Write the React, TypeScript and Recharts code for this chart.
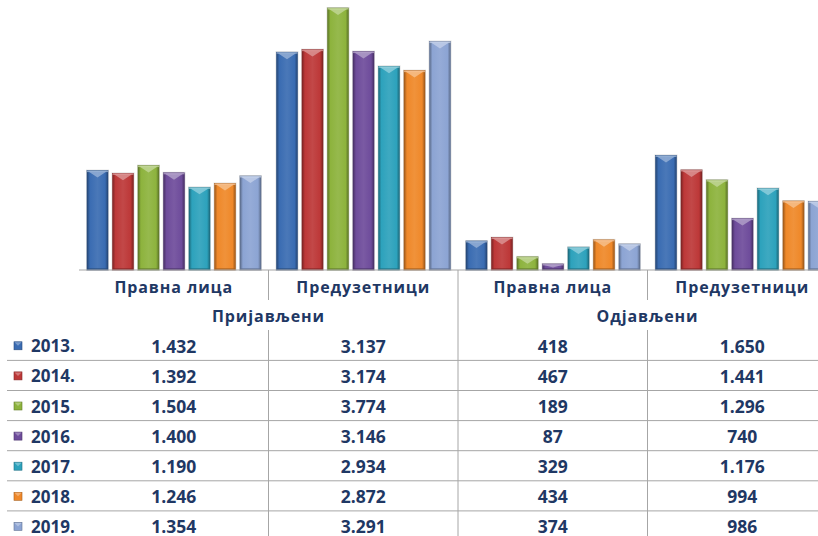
import React from 'react';
import { BarChart, Bar, XAxis, YAxis } from 'recharts';

const categories = ['Правна лица', 'Предузетници', 'Правна лица', 'Предузетници'];
const groupLabels = ['Пријављени', 'Одјављени'];
const years = ['2013.', '2014.', '2015.', '2016.', '2017.', '2018.', '2019.'];
const colors = ['#3A6CB2', '#BD3838', '#8DB33D', '#6E4C9B', '#2DA2BC', '#EF8829', '#8CA4D3'];

const v2013 = [1432, 3137, 418, 1650];
const v2014 = [1392, 3174, 467, 1441];
const v2015 = [1504, 3774, 189, 1296];
const v2016 = [1400, 3146, 87, 740];
const v2017 = [1190, 2934, 329, 1176];
const v2018 = [1246, 2872, 434, 994];
const v2019 = [1354, 3291, 374, 986];
const seriesValues = [v2013, v2014, v2015, v2016, v2017, v2018, v2019];

const keys = years.map((y) => 'y' + y.replace('.', ''));
const data = categories.map((c, i) => {
  const row: any = { name: c + '#' + i };
  keys.forEach((k, s) => {
    row[k] = seriesValues[s][i];
  });
  return row;
});

const CHART_W = 837;
const CHART_H = 536;
const M_LEFT = 79;
const M_TOP = 8;
const PLOT_H = 262;
const BAND = (CHART_W - M_LEFT) / categories.length;
const TEXT = '#1F3864';
const GRID = '#A6A6A6';
const FONT = "'Open Sans', 'Noto Sans', sans-serif";

const ROW0 = 345.8;
const ROW_STEP = 30.1;

function fmt(n: number) {
  if (n < 1000) return String(n);
  const t = Math.floor(n / 1000);
  const r = n % 1000;
  return t + '.' + String(r).padStart(3, '0');
}

function mix(hex: string, target: number, amt: number) {
  const n = parseInt(hex.slice(1), 16);
  const r = (n >> 16) & 255, g = (n >> 8) & 255, b = n & 255;
  const f = (c: number) => Math.round(c + (target - c) * amt);
  return `rgb(${f(r)},${f(g)},${f(b)})`;
}

const BevelBar = (props: any) => {
  const { x, y, width, height, fill } = props;
  if (!height || height <= 0) return null;
  const id = 'grad' + fill.slice(1);
  const ch = Math.min(width * 0.33, height * 0.6);
  return (
    <g>
      <defs>
        <linearGradient id={id} x1="0" y1="0" x2="1" y2="0">
          <stop offset="0" stopColor={mix(fill, 0, 0.35)} />
          <stop offset="0.14" stopColor={fill} />
          <stop offset="0.5" stopColor={mix(fill, 255, 0.08)} />
          <stop offset="0.86" stopColor={fill} />
          <stop offset="1" stopColor={mix(fill, 0, 0.35)} />
        </linearGradient>
      </defs>
      <rect x={x - 0.5} y={y - 0.5} width={width + 1} height={height + 1} fill="none" stroke="rgba(0,0,0,0.12)" strokeWidth={1} />
      <rect x={x} y={y} width={width} height={height} fill={`url(#${id})`} stroke={mix(fill, 0, 0.3)} strokeWidth={0.6} />
      <polygon
        points={`${x + 1.5},${y + 1} ${x + width - 1.5},${y + 1} ${x + width / 2},${y + ch}`}
        fill={mix(fill, 255, 0.45)}
        opacity={0.85}
      />
      <rect x={x} y={y} width={width} height={Math.min(1.5, height)} fill={mix(fill, 255, 0.55)} opacity={0.7} />
      {height > 4 && <rect x={x + 0.5} y={y + height - 2} width={width - 1} height={2} fill={mix(fill, 0, 0.3)} opacity={0.6} />}
    </g>
  );
};

const TableTick = (props: any) => {
  const { x, y, payload } = props;
  const i = payload.index;
  const right = x + BAND / 2;
  const bottom = CHART_H;
  const els: any[] = [];
  els.push(
    <text key="cat" x={x} y={y + 16.5} textAnchor="middle" dominantBaseline="central" fill={TEXT} fontSize={16} letterSpacing={0.9} fontWeight={700} fontFamily={FONT}>
      {categories[i]}
    </text>
  );
  if (i % 2 === 0) {
    els.push(
      <text key="grp" x={right} y={y + 45.5} textAnchor="middle" dominantBaseline="central" fill={TEXT} fontSize={16} letterSpacing={0.9} fontWeight={700} fontFamily={FONT}>
        {groupLabels[i / 2]}
      </text>
    );
  }
  if (i < categories.length - 1) {
    if (i === 1) {
      els.push(<line key="sep" x1={right} x2={right} y1={y} y2={bottom} stroke={GRID} strokeWidth={1} />);
    } else {
      els.push(<line key="sepa" x1={right} x2={right} y1={y} y2={y + 30} stroke={GRID} strokeWidth={1} />);
      els.push(<line key="sepb" x1={right} x2={right} y1={y + 60} y2={bottom} stroke={GRID} strokeWidth={1} />);
    }
  }
  seriesValues.forEach((vals, s) => {
    els.push(
      <text key={'v' + s} x={x} y={ROW0 + s * ROW_STEP} textAnchor="middle" dominantBaseline="central" fill={TEXT} fontSize={17.5} fontWeight={700} fontFamily={FONT}>
        {fmt(vals[i])}
      </text>
    );
  });
  if (i === 0) {
    years.forEach((yr, s) => {
      const cy = ROW0 + s * ROW_STEP;
      els.push(
        <g key={'lg' + s}>
          <rect x={14} y={cy - 4} width={8} height={8} fill={colors[s]} stroke={mix(colors[s], 0, 0.3)} strokeWidth={0.6} />
          <polygon points={`${14.5},${cy - 3.5} ${21.5},${cy - 3.5} ${18},${cy}`} fill={mix(colors[s], 255, 0.4)} opacity={0.8} />
          <text x={31} y={cy} dominantBaseline="central" fill={TEXT} fontSize={17} fontWeight={700} fontFamily={FONT}>
            {yr}
          </text>
        </g>
      );
      if (s < years.length - 1) {
        const ly = ROW0 + 14.6 + s * ROW_STEP;
        els.push(<line key={'rl' + s} x1={7} x2={CHART_W} y1={ly} y2={ly} stroke={GRID} strokeWidth={1} />);
      }
    });
  }
  return <g>{els}</g>;
};

export default function App() {
  return (
    <div style={{ position: 'absolute', left: 0, top: 0, width: 818, height: 536, overflow: 'hidden', background: '#fff' }}>
      <BarChart
        width={CHART_W}
        height={CHART_H}
        data={data}
        margin={{ top: M_TOP, right: 0, bottom: 0, left: M_LEFT }}
        barCategoryGap={8}
        barGap={4.5}
      >
        <XAxis
          dataKey="name"
          height={CHART_H - M_TOP - PLOT_H}
          axisLine={{ stroke: GRID, strokeWidth: 1 }}
          tickLine={false}
          tickSize={0}
          tickMargin={0}
          interval={0}
          tick={<TableTick />}
        />
        <YAxis hide domain={[0, 'dataMax']} />
        {keys.map((k, s) => (
          <Bar key={k} dataKey={k} fill={colors[s]} shape={<BevelBar />} isAnimationActive={false} />
        ))}
      </BarChart>
    </div>
  );
}
